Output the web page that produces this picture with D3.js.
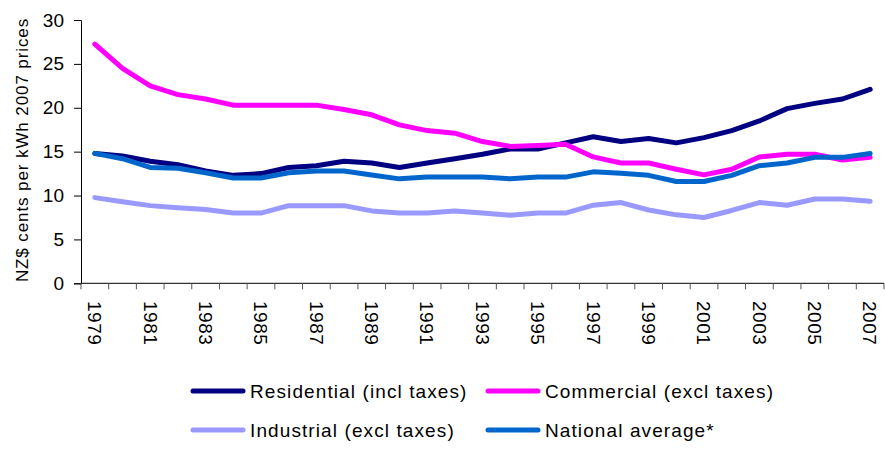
<!doctype html>
<html lang="en">
<head>
<meta charset="UTF-8" />
<title>Electricity prices</title>
<script src="https://d3js.org/d3.v7.min.js"></script>
<style>
  body, html { margin: 0; padding: 0; background: #fff; }
  svg { display: block; font-family: "Liberation Sans", Arial, sans-serif; }
</style>
</head>
<body>
<svg id="chart" width="885" height="449"></svg>
<script>
  // chart data, NZ$ cents per kWh (2007 prices)
  const years = d3.range(1979, 2008);
  const yTicks = [0, 5, 10, 15, 20, 25, 30];
  const residential = [14.8, 14.5, 13.9, 13.5, 12.8, 12.3, 12.5, 13.2, 13.4, 13.9, 13.7, 13.2, 13.7, 14.2, 14.7, 15.3, 15.3, 16.0, 16.7, 16.15, 16.5, 16.0, 16.6, 17.4, 18.5, 19.9, 20.5, 21.0, 22.1];
  const commercial = [27.25, 24.5, 22.5, 21.5, 21.0, 20.3, 20.3, 20.3, 20.3, 19.8, 19.2, 18.05, 17.4, 17.1, 16.15, 15.6, 15.7, 15.85, 14.4, 13.7, 13.7, 13.0, 12.35, 13.0, 14.4, 14.7, 14.7, 14.05, 14.35];
  const industrial = [9.76, 9.3, 8.85, 8.6, 8.4, 8.0, 8.0, 8.85, 8.85, 8.85, 8.25, 8.0, 8.0, 8.25, 8.0, 7.75, 8.0, 8.0, 8.9, 9.2, 8.35, 7.8, 7.5, 8.3, 9.2, 8.9, 9.6, 9.6, 9.35];
  const national = [14.8, 14.2, 13.2, 13.1, 12.6, 12.0, 12.0, 12.6, 12.8, 12.8, 12.35, 11.9, 12.1, 12.1, 12.1, 11.9, 12.1, 12.1, 12.7, 12.55, 12.3, 11.6, 11.6, 12.3, 13.4, 13.7, 14.35, 14.35, 14.8];

  const seriesNames = ["Residential (incl taxes)", "Commercial (excl taxes)", "Industrial (excl taxes)", "National average*"];
  const seriesColors = ["#000080", "#ff00ff", "#9999ff", "#0066cc"];
  const seriesValues = [residential, commercial, industrial, national];

  const svg = d3.select("#chart");
  const plotLeft = 81, plotRight = 884, plotTop = 20, plotBottom = 283.3;

  const x = d3.scaleBand().domain(years).range([plotLeft, plotRight]);
  const y = d3.scaleLinear().domain([0, 30]).range([plotBottom, plotTop]);

  // y axis
  const yAxis = svg.append("g")
    .attr("transform", `translate(${plotLeft},0)`)
    .call(d3.axisLeft(y).tickValues(yTicks).tickSize(7).tickPadding(10));
  yAxis.select(".domain").attr("stroke", "#000");
  yAxis.selectAll(".tick line").attr("stroke", "#000");
  yAxis.selectAll("text").attr("font-size", 19).attr("fill", "#000")
    .attr("font-family", "Liberation Sans, Arial, sans-serif");

  // x axis: ticks on the category boundaries
  const xg = svg.append("g");
  xg.append("line")
    .attr("x1", plotLeft).attr("x2", plotRight)
    .attr("y1", plotBottom).attr("y2", plotBottom)
    .attr("stroke", "#000");
  xg.selectAll("line.tk")
    .data(years.concat([2008]))
    .join("line")
    .attr("class", "tk")
    .attr("x1", (d) => d === 2008 ? plotRight : x(d))
    .attr("x2", (d) => d === 2008 ? plotRight : x(d))
    .attr("y1", plotBottom).attr("y2", plotBottom + 6)
    .attr("stroke", "#555");
  xg.selectAll("text")
    .data(years.filter((d) => (d - 1979) % 2 === 0))
    .join("text")
    .attr("transform", (d) => `translate(${x(d) + x.bandwidth() / 2},301) rotate(90)`)
    .attr("dy", "0.35em")
    .attr("font-size", 19)
    .attr("letter-spacing", 0.5)
    .attr("fill", "#000")
    .text((d) => d);

  // y axis title
  svg.append("text")
    .attr("transform", `translate(22,150) rotate(-90)`)
    .attr("text-anchor", "middle")
    .attr("dy", "0.35em")
    .attr("font-size", 17)
    .attr("letter-spacing", 0.9)
    .attr("fill", "#000")
    .text("NZ$ cents per kWh 2007 prices");

  // lines
  const line = d3.line()
    .x((d, i) => x(years[i]) + x.bandwidth() / 2)
    .y((d) => y(d));

  seriesValues.forEach((vals, k) => {
    svg.append("path")
      .datum(vals)
      .attr("fill", "none")
      .attr("stroke", seriesColors[k])
      .attr("stroke-width", 5)
      .attr("stroke-linecap", "round")
      .attr("stroke-linejoin", "round")
      .attr("d", line);
  });

  // legend
  const legendPos = [[193, 391], [488, 391], [193, 430], [488, 430]];
  seriesNames.forEach((name, k) => {
    const [lx, ly] = legendPos[k];
    svg.append("line")
      .attr("x1", lx).attr("x2", lx + 50)
      .attr("y1", ly).attr("y2", ly)
      .attr("stroke", seriesColors[k])
      .attr("stroke-width", 5)
      .attr("stroke-linecap", "round");
    svg.append("text")
      .attr("x", lx + 57).attr("y", ly)
      .attr("dy", "0.35em")
      .attr("font-size", 19)
      .attr("letter-spacing", 1.1)
      .attr("fill", "#000")
      .text(name);
  });
</script>
</body>
</html>
